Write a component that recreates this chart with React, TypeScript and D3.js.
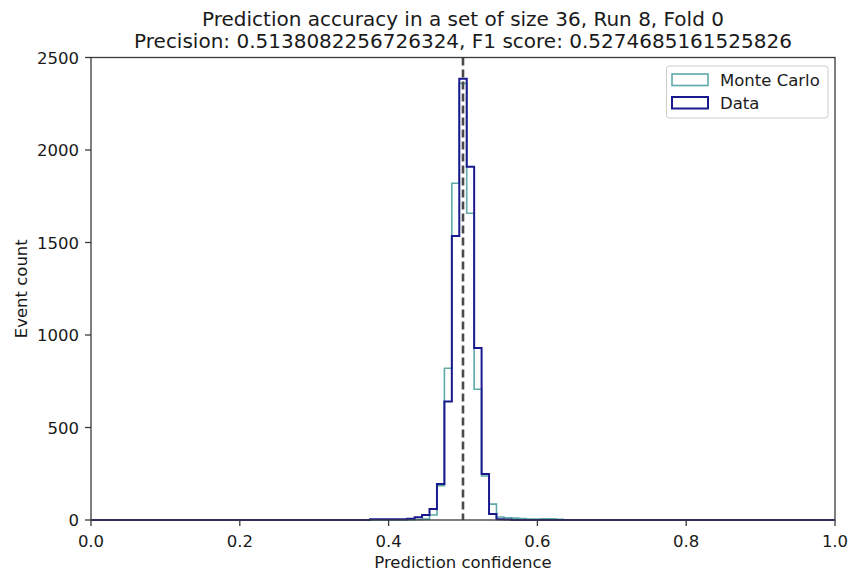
import React from "react";
import * as d3 from "d3";

const binEdges = [0.365, 0.375, 0.385, 0.395, 0.405, 0.415, 0.425, 0.435, 0.445, 0.455, 0.465, 0.475, 0.485, 0.495, 0.505, 0.515, 0.525, 0.535, 0.545, 0.555, 0.565, 0.575, 0.585, 0.595, 0.605, 0.615, 0.625, 0.635];
const binWidth = 0.01;
const dataCounts = [0, 4, 4, 4, 4, 4, 7, 15, 27, 59, 195, 640, 1535, 2385, 1910, 930, 249, 32, 4, 3, 0, 0, 0, 0, 0, 0, 0, 0];
const mcCounts = [0, 0, 0, 0, 0, 0, 2, 3, 5, 27, 185, 820, 1820, 2360, 1658, 707, 238, 86, 16, 12, 10, 8, 5, 5, 6, 6, 4, 0];
const xTicks = [0.0, 0.2, 0.4, 0.6, 0.8, 1.0];
const yTicks = [0, 500, 1000, 1500, 2000, 2500];
const threshold = 0.5;
const titleLines = [
  "Prediction accuracy in a set of size 36, Run 8, Fold 0",
  "Precision: 0.5138082256726324, F1 score: 0.5274685161525826",
];
const seriesNames = ["Monte Carlo", "Data"];

const W = 852, H = 573;
const M = { left: 91, right: 835, top: 57.5, bottom: 520 };
const FONT = "'DejaVu Sans', sans-serif";
const MC_COLOR = "#5fa9a9";
const DATA_COLOR = "#1a1a8e";

export default function App() {
  const x = d3.scaleLinear().domain([0, 1]).range([M.left, M.right]);
  const y = d3.scaleLinear().domain([0, 2500]).range([M.bottom, M.top]);

  const stepPts = (counts: number[]) => {
    const pts: [number, number][] = [[0, 0]];
    binEdges.forEach((e, i) => pts.push([e, counts[i]]));
    pts.push([binEdges[binEdges.length - 1] + binWidth, 0]);
    pts.push([1, 0]);
    return pts;
  };
  const line = d3
    .line<[number, number]>()
    .x((d) => x(d[0]))
    .y((d) => y(d[1]))
    .curve(d3.curveStepAfter);

  return (
    <svg width={W} height={H} style={{ position: "absolute", left: 0, top: 0, background: "#fff" }} fontFamily={FONT}>
      {titleLines.map((t, i) => (
        <text key={i} x={(M.left + M.right) / 2} y={26 + i * 22} textAnchor="middle" fontSize={20} fill="#1a1a1a">
          {t}
        </text>
      ))}
      <path d={line(stepPts(mcCounts)) || ""} fill="none" stroke={MC_COLOR} strokeWidth={1.6} />
      <path d={line(stepPts(dataCounts)) || ""} fill="none" stroke={DATA_COLOR} strokeWidth={2} />
      <line x1={x(threshold)} x2={x(threshold)} y1={M.top} y2={M.bottom} stroke="#4a4a4a" strokeWidth={2.6} strokeDasharray="8,4" />
      <rect x={M.left} y={M.top} width={M.right - M.left} height={M.bottom - M.top} fill="none" stroke="#3a3a3a" strokeWidth={1.3} />
      {xTicks.map((t) => (
        <g key={"x" + t}>
          <line x1={x(t)} x2={x(t)} y1={M.bottom} y2={M.bottom + 6} stroke="#3a3a3a" strokeWidth={1.3} />
          <text x={x(t)} y={M.bottom + 27} textAnchor="middle" fontSize={16.5} fill="#1a1a1a">
            {t.toFixed(1)}
          </text>
        </g>
      ))}
      {yTicks.map((t) => (
        <g key={"y" + t}>
          <line x1={M.left - 6} x2={M.left} y1={y(t)} y2={y(t)} stroke="#3a3a3a" strokeWidth={1.3} />
          <text x={M.left - 12} y={y(t) + 6} textAnchor="end" fontSize={16.5} fill="#1a1a1a">
            {t}
          </text>
        </g>
      ))}
      <text x={(M.left + M.right) / 2} y={568} textAnchor="middle" fontSize={16.5} fill="#1a1a1a">
        Prediction confidence
      </text>
      <text transform={`translate(27,${(M.top + M.bottom) / 2}) rotate(-90)`} textAnchor="middle" fontSize={16.5} fill="#1a1a1a">
        Event count
      </text>
      <g>
        <rect x={666.5} y={66} width={161.5} height={52} rx={3} fill="#fff" fillOpacity={0.8} stroke="#ccc" strokeWidth={1} />
        {seriesNames.map((n, i) => (
          <g key={n}>
            <rect x={672} y={74 + i * 23} width={36} height={11.5} fill="none" stroke={i === 0 ? MC_COLOR : DATA_COLOR} strokeWidth={i === 0 ? 1.6 : 2} />
            <text x={720} y={86 + i * 23} fontSize={16.5} fill="#1a1a1a">
              {n}
            </text>
          </g>
        ))}
      </g>
    </svg>
  );
}
